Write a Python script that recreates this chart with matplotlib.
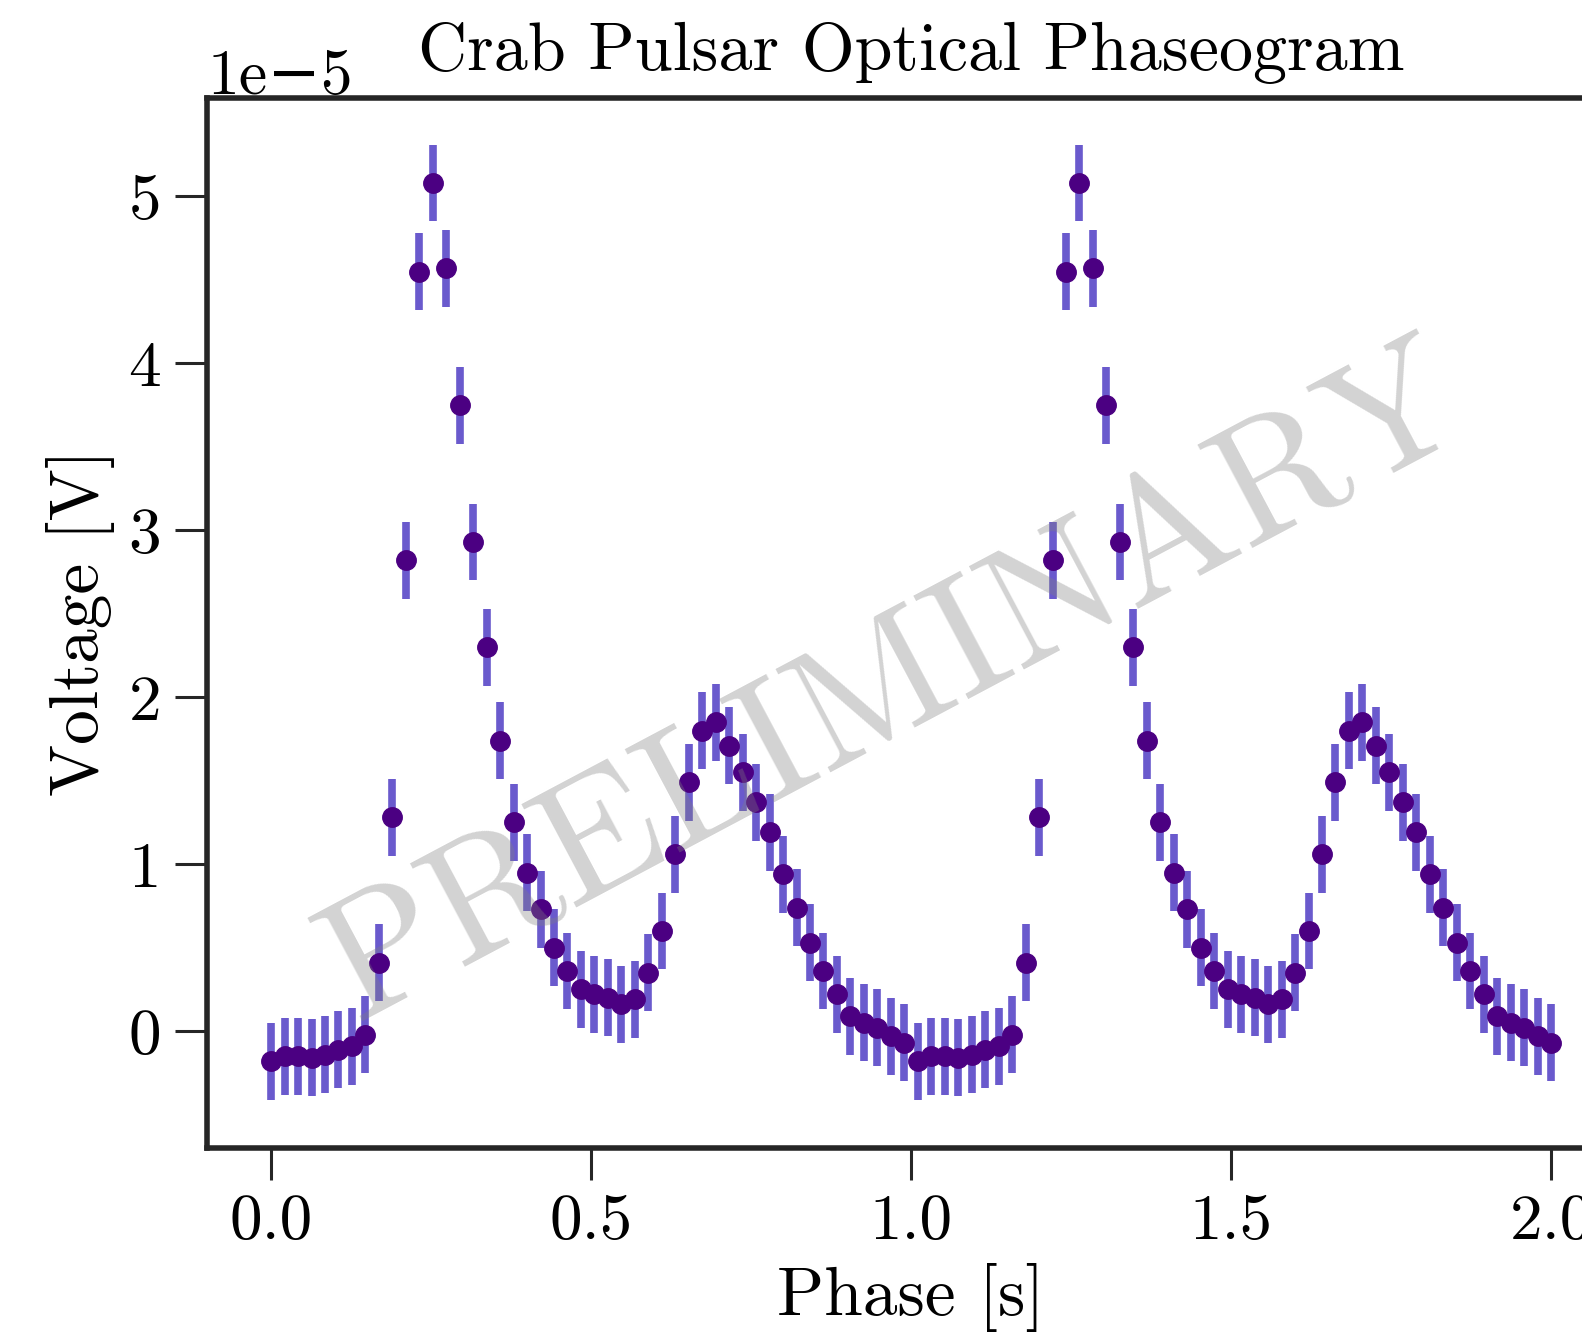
import matplotlib
matplotlib.use("Agg")
import matplotlib.pyplot as plt
import numpy as np

# Phasenbins einer Periode (48 Bins), zweimal hintereinander geplottet
volt_e5 = [-0.18, -0.15, -0.15, -0.16, -0.14, -0.11, -0.09, -0.02,
           0.41, 1.28, 2.82, 4.55, 5.08, 4.57, 3.75, 2.93,
           2.30, 1.74, 1.25, 0.95, 0.73, 0.50, 0.36, 0.25,
           0.22, 0.20, 0.16, 0.19, 0.35, 0.60, 1.06, 1.49,
           1.80, 1.85, 1.71, 1.55, 1.37, 1.19, 0.94, 0.74,
           0.53, 0.36, 0.22, 0.09, 0.05, 0.02, -0.03, -0.07]
volt_err_e5 = 0.23
n_periods = 2

volt = np.tile(volt_e5, n_periods) * 1e-5
phase = np.linspace(0, n_periods, len(volt))
err = np.full(len(volt), volt_err_e5 * 1e-5)

plt.rcParams['font.family'] = ['cmr10', 'DejaVu Serif']
plt.rcParams['axes.formatter.use_mathtext'] = False

fig = plt.figure(figsize=(15.82, 13.36), dpi=100)
ax = fig.add_axes([0.1309, 0.1407, 0.890, 0.786])

ax.errorbar(phase, volt, yerr=err, fmt='o', color='indigo', markersize=14,
            ecolor='slateblue', elinewidth=5.5, capsize=0, zorder=3)

# Wasserzeichen
ax.text(0.488, 0.44, 'PRELIMINARY', transform=ax.transAxes, rotation=28,
        ha='center', va='center', fontsize=124, color='gray', alpha=0.35, zorder=4)

ax.set_xlim(-0.1, 2.1)
ax.set_ylim(-0.70e-5, 5.59e-5)
ax.set_xticks([0.0, 0.5, 1.0, 1.5, 2.0])
ax.set_yticks(np.array([0, 1, 2, 3, 4, 5]) * 1e-5)

ax.set_title("Crab Pulsar Optical Phaseogram", fontsize=49, pad=20)
ax.set_xlabel("Phase [s]", fontsize=50, labelpad=8)
ax.set_ylabel("Voltage [V]", fontsize=50, labelpad=10)

for s in ax.spines.values():
    s.set_linewidth(4)
    s.set_color('#262626')
ax.tick_params(axis='both', length=23, width=2.2, color='#262626', labelsize=47, pad=10)
ax.yaxis.get_offset_text().set_fontsize(46)

plt.savefig("out.png", dpi=100)
plt.close()
